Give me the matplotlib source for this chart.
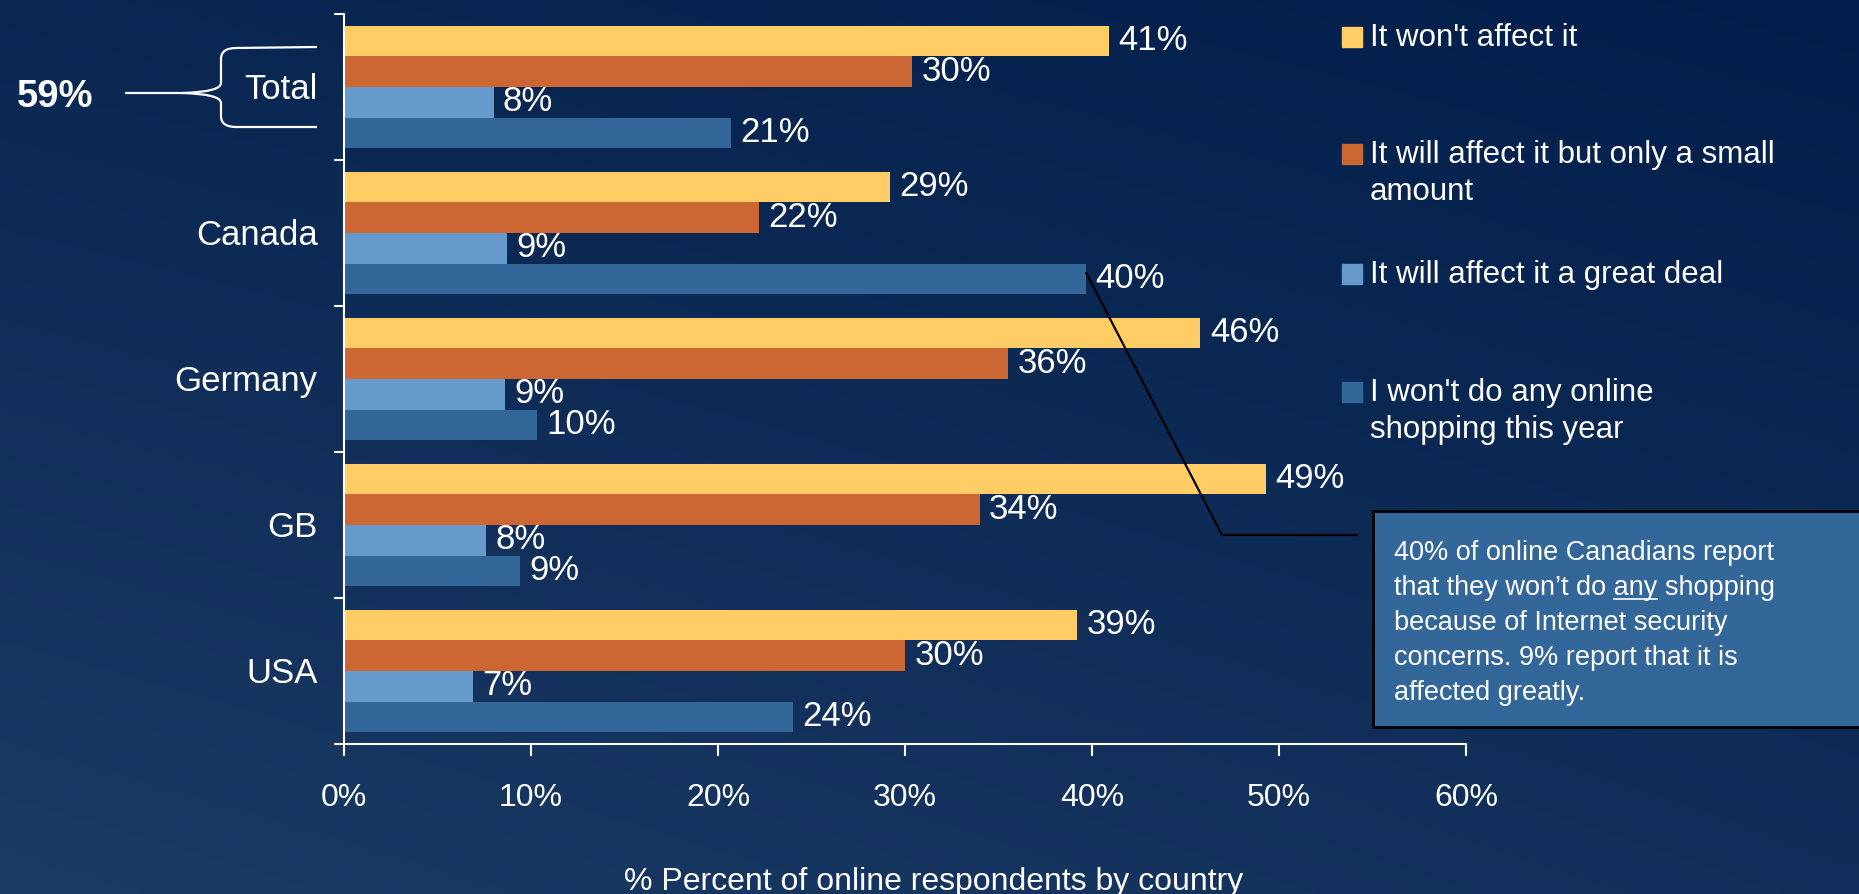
import numpy as np
import matplotlib.pyplot as plt
from matplotlib.patches import Rectangle, PathPatch
from matplotlib.path import Path
from matplotlib.lines import Line2D

plt.rcParams['font.family'] = ['Liberation Sans', 'DejaVu Sans']

countries = ["Total", "Canada", "Germany", "GB", "USA"]
series_names = ["It won't affect it",
                "It will affect it but only a small\namount",
                "It will affect it a great deal",
                "I won't do any online\nshopping this year"]
wont_affect = [40.9, 29.2, 45.8, 49.3, 39.2]
small_amount = [30.4, 22.2, 35.5, 34.0, 30.0]
great_deal = [8.0, 8.7, 8.6, 7.6, 6.9]
no_shopping = [20.7, 39.7, 10.3, 9.4, 24.0]
colors = ['#FFCC66', '#CC6633', '#6699CC', '#336699']
x_ticks = [0, 10, 20, 30, 40, 50, 60]
total_combined = "59%"
note_lines = ["40% of online Canadians report",
              "that they won\u2019t do any shopping",
              "because of Internet security",
              "concerns. 9% report that it is",
              "affected greatly."]

W, H = 1859, 895


def fpos(x, y):
    # pixel position (from top-left) -> figure fraction
    return x / W, 1 - y / H


fig = plt.figure(figsize=(W / 100, H / 100), dpi=100)

# background gradient
bg = fig.add_axes([0, 0, 1, 1], zorder=0)
yy, xx = np.mgrid[0:1:300j, 0:1:600j]
dark = np.array([3, 30, 74]) / 255
light = np.array([28, 60, 102]) / 255
t = np.clip(0.55 * yy + 0.3 * (1 - xx) + 0.1 * yy * (1 - xx), 0, 1)
img = dark + t[..., None] * (light - dark)
bg.imshow(img, extent=[0, 1, 0, 1], aspect='auto', origin='upper')
bg.axis('off')

# main axes
x0, x1, y0, y1 = 344, 1466, 15, 745
ax = fig.add_axes([x0 / W, (H - y1) / H, (x1 - x0) / W, (y1 - y0) / H], zorder=1)
ax.patch.set_alpha(0)

values = [wont_affect, small_amount, great_deal, no_shopping]
bar_h = 0.21
offsets = [-0.315, -0.105, 0.105, 0.315]
pos = np.arange(len(countries))
for k, vals in enumerate(values):
    ax.barh(pos + offsets[k], vals, height=bar_h, color=colors[k], zorder=2)
    for yv, v in zip(pos + offsets[k], vals):
        ax.text(v + 0.5, yv - 0.01, f"{round(v)}%", va='center', ha='left',
                fontsize=25, color='white')

ax.set_xlim(0, 60)
ax.set_ylim(len(countries) - 0.5, -0.5)
ax.set_yticks(np.arange(len(countries) + 1) - 0.5)
ax.set_yticklabels([])
ax.set_yticks(pos - 0.015, minor=True)
ax.set_yticklabels(countries, minor=True)
ax.tick_params(axis='y', which='major', length=7.5, width=1.5, color='white')
ax.tick_params(axis='y', which='minor', length=0, pad=19, labelsize=25,
               labelcolor='white')
ax.set_xticks(x_ticks)
ax.set_xticklabels([f"{v}%" for v in x_ticks])
ax.tick_params(axis='x', length=8.6, width=1.5, color='white', pad=19,
               labelsize=23, labelcolor='white')
for s in ['top', 'right']:
    ax.spines[s].set_visible(False)
for s in ['left', 'bottom']:
    ax.spines[s].set_color('white')
    ax.spines[s].set_linewidth(1.5)

fig.text(*fpos(934, 890), "% Percent of online respondents by country",
         ha='center', va='baseline', fontsize=23, color='white')

# legend
legend_y = [38, 155, 275, 393]
for i, (name, yc) in enumerate(zip(series_names, legend_y)):
    fig.add_artist(Rectangle(fpos(1342, yc + 10), 20 / W, 20 / H,
                             transform=fig.transFigure, color=colors[i]))
    for j, line in enumerate(name.split('\n')):
        fig.text(*fpos(1370, yc + 37 * j), line, va='center', ha='left',
                 fontsize=22.5, color='white')

# note box
fig.add_artist(Rectangle(fpos(1373, 728), (1875 - 1373) / W, (728 - 512) / H,
                         transform=fig.transFigure, facecolor='#336699',
                         edgecolor='black', lw=2, clip_on=False))
renderer = fig.canvas.get_renderer()
note_fs = 19.5
for j, line in enumerate(note_lines):
    yc = 553 + 35 * j
    fig.text(*fpos(1394, yc), line, va='center', ha='left', fontsize=note_fs,
             color='white')
    if " any " in line:
        pre = line[:line.index(" any ") + 4]
        tp = fig.text(0, 0, pre, fontsize=note_fs)
        ta = fig.text(0, 0, "any", fontsize=note_fs)
        w_pre = tp.get_window_extent(renderer).width
        w_any = ta.get_window_extent(renderer).width
        tp.remove()
        ta.remove()
        xa = 1394 + w_pre - w_any
        fig.add_artist(Line2D([xa / W, (xa + w_any) / W],
                              [1 - (yc + 12) / H] * 2, color='white', lw=1.2,
                              transform=fig.transFigure))

# connector from Canada "won't shop" bar to note box
sx, sy = ax.transData.transform((no_shopping[1], 1 + offsets[3] - 0.04))
sy = H - sy
pts = [(sx, sy), (1222, 536), (1357, 536)]
fig.add_artist(Line2D([p[0] / W for p in pts], [1 - p[1] / H for p in pts],
                      color='black', lw=1.6, transform=fig.transFigure, zorder=5))

# brace around Total
verts = [(317, 48), (236, 49), (221, 49), (221, 60), (221, 84), (221, 93), (182, 94),
         (125, 94),
         (182, 94), (221, 95), (221, 104), (221, 117), (221, 128), (236, 128),
         (317, 128)]
codes = [Path.MOVETO, Path.LINETO, Path.CURVE3, Path.CURVE3, Path.LINETO,
         Path.CURVE3, Path.CURVE3, Path.LINETO,
         Path.MOVETO, Path.CURVE3, Path.CURVE3, Path.LINETO, Path.CURVE3,
         Path.CURVE3, Path.LINETO]
brace = Path([fpos(x, y) for x, y in verts], codes)
fig.add_artist(PathPatch(brace, facecolor='none', edgecolor='white', lw=1.6,
                         transform=fig.transFigure))
fig.text(*fpos(17, 97), total_combined, ha='left', va='center', fontsize=27.5,
         fontweight='bold', color='white')

fig.savefig('out.png', dpi=100)
